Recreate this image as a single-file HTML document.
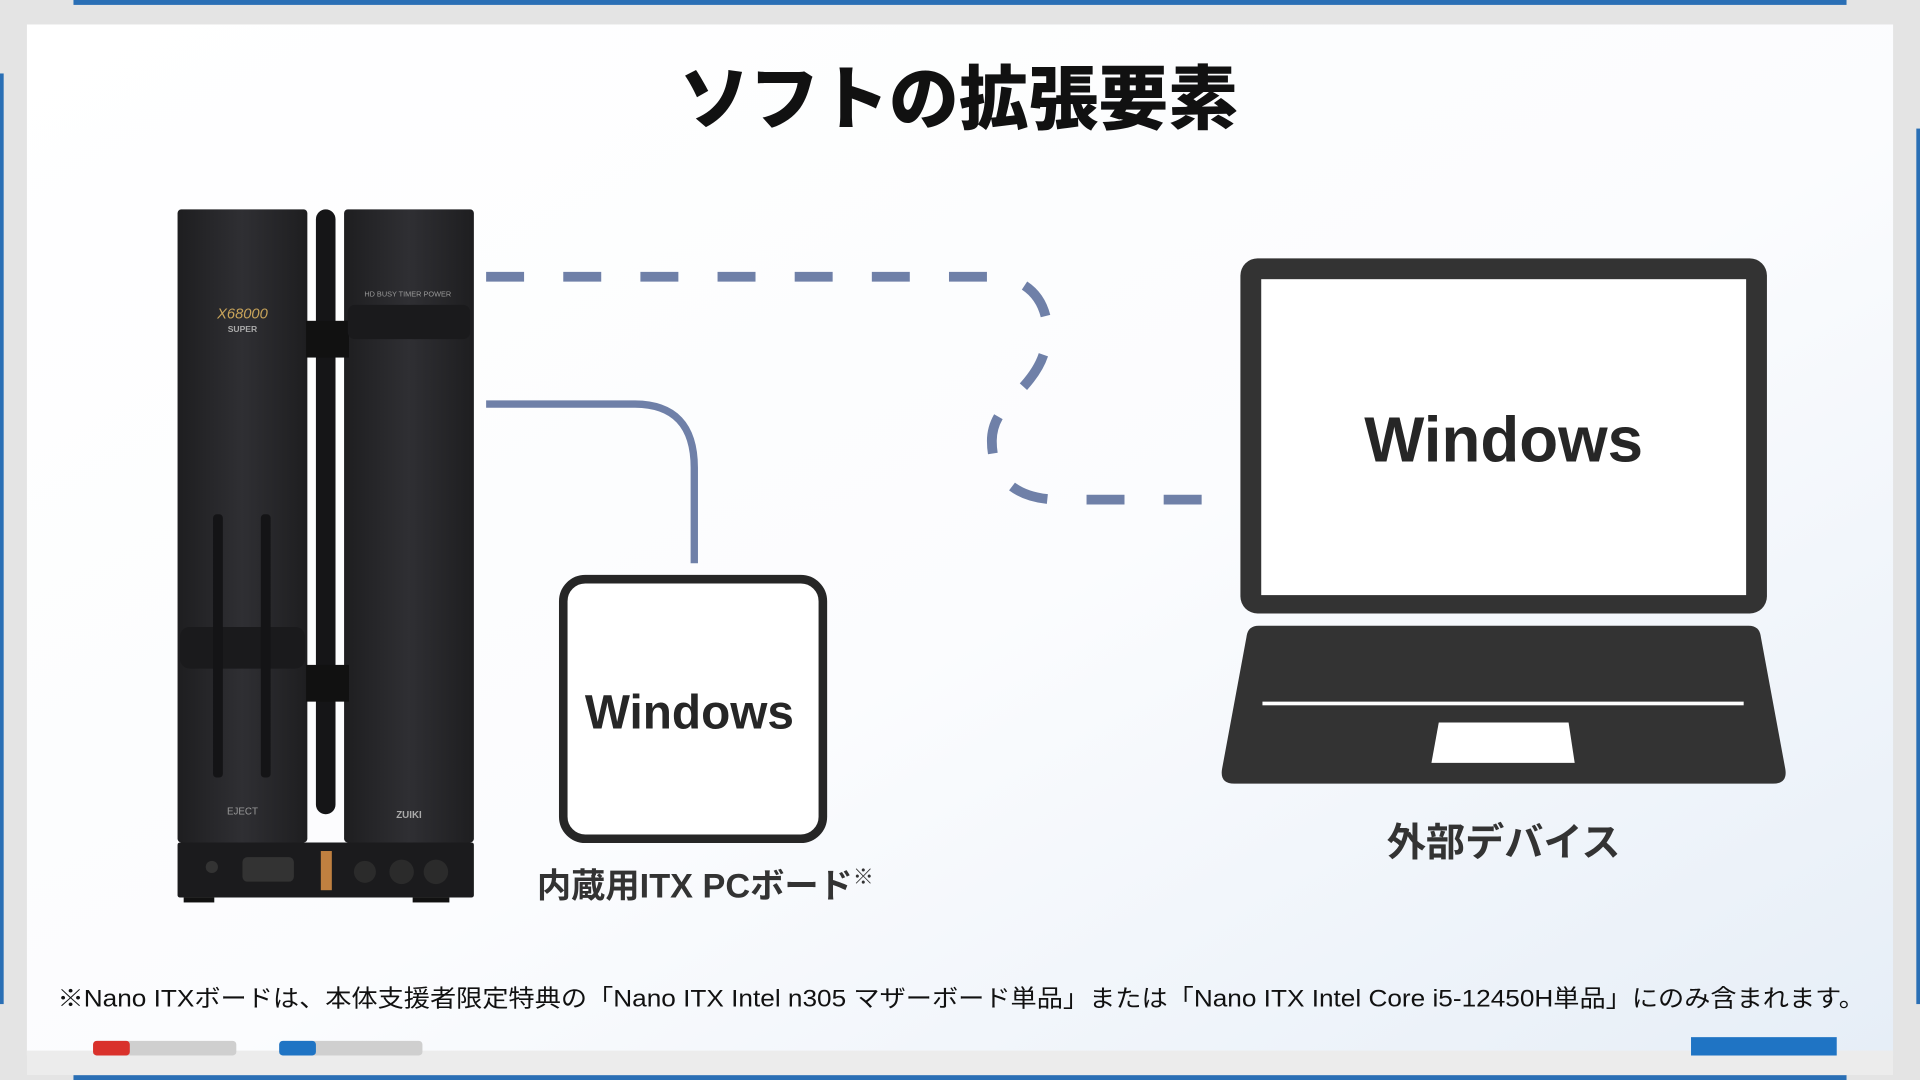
<!DOCTYPE html>
<html><head><meta charset="utf-8"><style>
html,body{margin:0;padding:0;width:1920px;height:1080px;overflow:hidden;background:#fff}
svg{display:block}
text{font-family:"Liberation Sans","Noto Sans CJK JP",sans-serif}
</style></head><body>
<svg width="1920" height="1080" viewBox="0 0 1568 882" xmlns="http://www.w3.org/2000/svg">
<defs>
<linearGradient id="bg" x1="0" y1="0" x2="1" y2="1">
<stop offset="0" stop-color="#ffffff"/><stop offset="0.55" stop-color="#fbfcfe"/><stop offset="1" stop-color="#e6eef7"/>
</linearGradient>
<linearGradient id="tw" x1="0" y1="0" x2="1" y2="0">
<stop offset="0" stop-color="#1e1e20"/><stop offset="0.5" stop-color="#2f2f33"/><stop offset="1" stop-color="#1e1e20"/>
</linearGradient>
</defs>
<rect width="1568" height="882" fill="#e4e4e4"/>
<rect x="60" y="0" width="1448" height="4" fill="#2a6fb5"/>
<rect x="60" y="878" width="1448" height="4" fill="#2a6fb5"/>
<rect x="0" y="60" width="3" height="760" fill="#2a6fb5"/>
<rect x="1565" y="105" width="3" height="715" fill="#2a6fb5"/>
<rect x="22" y="20" width="1524" height="842" fill="url(#bg)"/>
<rect x="22" y="858" width="1524" height="20" fill="#ececec"/>
<text x="783" y="101" font-size="57" font-weight="900" text-anchor="middle" fill="#111" style="font-family:'Noto Sans CJK JP',sans-serif">ソフトの拡張要素</text>

<!-- computer -->
<rect x="145" y="171" width="106" height="517" rx="3" fill="url(#tw)"/>
<rect x="281" y="171" width="106" height="517" rx="3" fill="url(#tw)"/>
<rect x="258" y="171" width="16" height="494" rx="8" fill="#151517"/>
<rect x="250" y="262" width="35" height="30" fill="#111"/>
<rect x="284" y="249" width="100" height="28" rx="6" fill="#1a1a1c"/>
<rect x="147" y="512" width="102" height="34" rx="8" fill="#1a1a1c"/>
<rect x="250" y="543" width="35" height="30" fill="#111"/>
<rect x="174" y="420" width="8" height="215" rx="3" fill="#141416"/>
<rect x="213" y="420" width="8" height="215" rx="3" fill="#141416"/>
<text x="198" y="260" font-size="12" font-style="italic" fill="#c9a45a" text-anchor="middle">X68000</text>
<text x="198" y="271" font-size="7" font-weight="bold" fill="#aaa" text-anchor="middle">SUPER</text>
<text x="333" y="242" font-size="6" fill="#999" text-anchor="middle">HD BUSY  TIMER  POWER</text>
<text x="198" y="665" font-size="8" fill="#999" text-anchor="middle">EJECT</text>
<text x="334" y="668" font-size="8" font-weight="bold" fill="#aaa" text-anchor="middle">ZUIKI</text>
<rect x="145" y="688" width="242" height="45" rx="2" fill="#1b1b1d"/>
<rect x="262" y="695" width="9" height="32" fill="#c08040"/>
<circle cx="173" cy="708" r="5" fill="#333"/>
<rect x="198" y="700" width="42" height="20" rx="4" fill="#333"/>
<circle cx="298" cy="712" r="9" fill="#2b2b2b"/>
<circle cx="328" cy="712" r="10" fill="#2b2b2b"/>
<circle cx="356" cy="712" r="10" fill="#2b2b2b"/>
<rect x="150" y="733" width="25" height="4" fill="#111"/><rect x="337" y="733" width="30" height="4" fill="#111"/>

<!-- connectors -->
<path d="M397,226 H810 C850,226 862,262 852,290 C842,320 810,330 810,360 C810,395 835,408 865,408 H995" fill="none" stroke="#6f80a8" stroke-width="8" stroke-dasharray="31 32"/>
<path d="M397,330 H518 Q567,330 567,382 V460" fill="none" stroke="#6f80a8" stroke-width="6"/>

<!-- small box -->
<rect x="460" y="473" width="212" height="212" rx="18" fill="#fff" stroke="#262626" stroke-width="7"/>
<text x="563" y="595" font-size="39" font-weight="bold" text-anchor="middle" fill="#262626">Windows</text>
<text x="576" y="733" font-size="28" font-weight="bold" text-anchor="middle" fill="#333">内蔵用ITX PCボード<tspan font-size="17" dy="-11">※</tspan></text>

<!-- laptop -->
<rect x="1013" y="211" width="430" height="290" rx="14" fill="#333"/>
<rect x="1030" y="228" width="396" height="258" fill="#fff"/>
<text x="1228" y="377" font-size="52" font-weight="bold" text-anchor="middle" fill="#262626">Windows</text>
<path d="M1028,511 H1428 Q1437,511 1438,520 L1458,628 Q1460,640 1448,640 H1008 Q996,640 998,628 L1018,520 Q1019,511 1028,511 Z" fill="#333"/>
<rect x="1031" y="573" width="393" height="3" fill="#fff"/>
<path d="M1175,590 H1281 L1286,623 H1169 Z" fill="#fff"/>
<text x="1228" y="699" font-size="32" font-weight="bold" text-anchor="middle" fill="#333">外部デバイス</text>

<text x="47" y="822" font-size="19.5" fill="#111" textLength="1476" lengthAdjust="spacingAndGlyphs">※Nano ITXボードは、本体支援者限定特典の「Nano ITX Intel n305 マザーボード単品」または「Nano ITX Intel Core i5-12450H単品」にのみ含まれます。</text>

<rect x="76" y="850" width="117" height="12" rx="3" fill="#cfcfcf"/>
<rect x="76" y="850" width="30" height="12" rx="3" fill="#d9312b"/>
<rect x="228" y="850" width="117" height="12" rx="3" fill="#cfcfcf"/>
<rect x="228" y="850" width="30" height="12" rx="3" fill="#1f74c4"/>
<rect x="1381" y="847" width="119" height="15" fill="#1f74c4"/>
</svg>
</body></html>
